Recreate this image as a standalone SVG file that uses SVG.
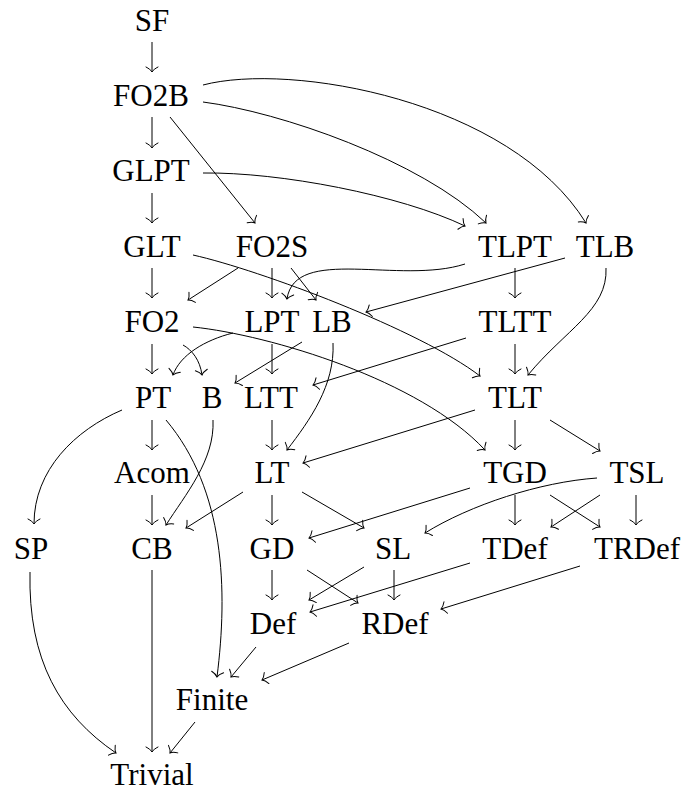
<svg xmlns="http://www.w3.org/2000/svg" width="685" height="792" viewBox="0 0 685 792">
<style>
text{font-size:31px;fill:#000;text-anchor:middle}
.e{fill:none;stroke:#000;stroke-width:1;marker-end:url(#ah)}
</style>
<defs>
<marker id="ah" viewBox="-8 -8 16 16" markerWidth="16" markerHeight="16" markerUnits="userSpaceOnUse" refX="0" refY="0" orient="auto" overflow="visible">
<path d="M -5 -6 C -3.5 -3, -1.5 -0.8, 0 0 C -1.5 0.8, -3.5 3, -5 6" fill="none" stroke="#000" stroke-width="1" stroke-linecap="round"/>
</marker>
</defs>
<rect width="685" height="792" fill="#fff"/>
<g id="edges">
<path class="e" d="M152 42V72"/>
<path class="e" d="M152 117V148"/>
<path class="e" d="M170 117L255 223"/>
<path class="e" d="M152 193V223"/>
<path class="e" d="M203 102C280 112 420 160 486 223"/>
<path class="e" d="M203 85C290 62 510 100 586 223"/>
<path class="e" d="M203 173C280 172 400 195 465 226"/>
<path class="e" d="M152 268V298"/>
<path class="e" d="M193 255C260 270 420 330 480 376"/>
<path class="e" d="M238 268L188 300"/>
<path class="e" d="M272 268V298"/>
<path class="e" d="M291 268L316 300"/>
<path class="e" d="M465 264C400 285 295 245 287 299"/>
<path class="e" d="M565 258L366 312"/>
<path class="e" d="M515 268V298"/>
<path class="e" d="M606 268C608 310 565 330 528 375"/>
<path class="e" d="M515 344V374"/>
<path class="e" d="M152 344V374"/>
<path class="e" d="M183 345C192 350 200 360 202 375"/>
<path class="e" d="M193 327C270 335 420 380 485 450"/>
<path class="e" d="M233 333C205 340 180 355 173 375"/>
<path class="e" d="M272 344V374"/>
<path class="e" d="M302 342L235 383"/>
<path class="e" d="M333 343C335 385 310 420 287 450"/>
<path class="e" d="M466 338L313 385"/>
<path class="e" d="M122 410C75 430 34 470 34 524"/>
<path class="e" d="M152 420V450"/>
<path class="e" d="M166 420C225 490 228 590 217 677"/>
<path class="e" d="M213 420C215 460 185 495 166 525"/>
<path class="e" d="M272 420V450"/>
<path class="e" d="M475 410L303 463"/>
<path class="e" d="M515 420V450"/>
<path class="e" d="M550 420L600 451"/>
<path class="e" d="M152 495V525"/>
<path class="e" d="M243 492L186 528"/>
<path class="e" d="M272 495V525"/>
<path class="e" d="M302 492L364 528"/>
<path class="e" d="M470 488L309 538"/>
<path class="e" d="M597 478C540 482 470 505 425 533"/>
<path class="e" d="M515 495V525"/>
<path class="e" d="M550 495L600 527"/>
<path class="e" d="M600 495L551 527"/>
<path class="e" d="M636 495V525"/>
<path class="e" d="M152 570V752"/>
<path class="e" d="M30 572C28 660 60 715 116 753"/>
<path class="e" d="M272 570V600"/>
<path class="e" d="M307 570L358 603"/>
<path class="e" d="M364 567L309 600"/>
<path class="e" d="M394 570V600"/>
<path class="e" d="M470 563L310 612"/>
<path class="e" d="M580 566L441 609"/>
<path class="e" d="M256 647L231 677"/>
<path class="e" d="M349 643L262 680"/>
<path class="e" d="M195 722L170 753"/>
</g>
<g font-family="Liberation Serif">
<g id="SF"><text x="152" y="30.5" font-family="Liberation Serif">SF</text></g>
<g id="FO2B"><text x="151" y="106" font-family="Liberation Serif">FO2B</text></g>
<g id="GLPT"><text x="151" y="181" font-family="Liberation Serif">GLPT</text></g>
<g id="GLT"><text x="152" y="256.5" font-family="Liberation Serif">GLT</text></g>
<g id="FO2S"><text x="272" y="256.5" font-family="Liberation Serif">FO2S</text></g>
<g id="TLPT"><text x="515" y="256.5" font-family="Liberation Serif">TLPT</text></g>
<g id="TLB"><text x="605" y="256.5" font-family="Liberation Serif">TLB</text></g>
<g id="FO2"><text x="152" y="332" font-family="Liberation Serif">FO2</text></g>
<g id="LPT"><text x="272" y="332" font-family="Liberation Serif">LPT</text></g>
<g id="LB"><text x="332" y="332" font-family="Liberation Serif">LB</text></g>
<g id="TLTT"><text x="515" y="332" font-family="Liberation Serif">TLTT</text></g>
<g id="PT"><text x="153" y="407.5" font-family="Liberation Serif">PT</text></g>
<g id="B"><text x="212" y="407.5" font-family="Liberation Serif">B</text></g>
<g id="LTT"><text x="271" y="407.5" font-family="Liberation Serif">LTT</text></g>
<g id="TLT"><text x="515" y="407.5" font-family="Liberation Serif">TLT</text></g>
<g id="Acom"><text x="152" y="483" font-family="Liberation Serif">Acom</text></g>
<g id="LT"><text x="272" y="483" font-family="Liberation Serif">LT</text></g>
<g id="TGD"><text x="515" y="483" font-family="Liberation Serif">TGD</text></g>
<g id="TSL"><text x="637" y="483" font-family="Liberation Serif">TSL</text></g>
<g id="SP"><text x="31" y="558.5" font-family="Liberation Serif">SP</text></g>
<g id="CB"><text x="152" y="558.5" font-family="Liberation Serif">CB</text></g>
<g id="GD"><text x="272" y="558.5" font-family="Liberation Serif">GD</text></g>
<g id="SL"><text x="393" y="558.5" font-family="Liberation Serif">SL</text></g>
<g id="TDef"><text x="515" y="558.5" font-family="Liberation Serif">TDef</text></g>
<g id="TRDef"><text x="637" y="558.5" font-family="Liberation Serif">TRDef</text></g>
<g id="Def"><text x="273" y="634" font-family="Liberation Serif">Def</text></g>
<g id="RDef"><text x="395" y="634" font-family="Liberation Serif">RDef</text></g>
<g id="Finite"><text x="212" y="709.5" font-family="Liberation Serif">Finite</text></g>
<g id="Trivial"><text x="152" y="785" font-family="Liberation Serif">Trivial</text></g>
</g>
</svg>
